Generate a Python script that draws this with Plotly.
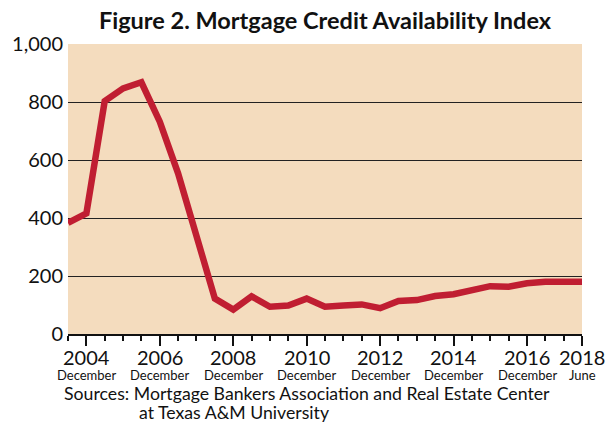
import plotly.graph_objects as go

dates = ["2004-06-01", "2004-12-01", "2005-06-01", "2005-12-01", "2006-06-01", "2006-12-01",
         "2007-06-01", "2007-12-01", "2008-06-01", "2008-12-01", "2009-06-01", "2009-12-01",
         "2010-06-01", "2010-12-01", "2011-06-01", "2011-12-01", "2012-06-01", "2012-12-01",
         "2013-06-01", "2013-12-01", "2014-06-01", "2014-12-01", "2015-06-01", "2015-12-01",
         "2016-06-01", "2016-12-01", "2017-06-01", "2017-12-01", "2018-06-01"]
mcai = [383, 416, 803, 847, 868, 732, 554, 330, 122, 84, 130, 94,
        98, 122, 94, 98, 102, 89, 114, 117, 131, 137, 152, 165,
        163, 175, 180, 180, 180]

tick_dates = ["2004-12-01", "2006-12-01", "2008-12-01", "2010-12-01", "2012-12-01",
              "2014-12-01", "2016-12-01", "2018-06-01"]
tick_years = ["2004", "2006", "2008", "2010", "2012", "2014", "2016", "2018"]
tick_months = ["December", "December", "December", "December", "December",
               "December", "December", "June"]
y_ticks = [0, 200, 400, 600, 800, 1000]
y_labels = ["0", "200", "400", "600", "800", "1,000"]

FONT = "Lato"

fig = go.Figure()
fig.add_trace(go.Scatter(x=dates, y=mcai, mode="lines",
                         line=dict(color="#C01E32", width=6.5),
                         hoverinfo="skip"))

annotations = []
for d, yr, m in zip(tick_dates, tick_years, tick_months):
    annotations.append(dict(x=d, y=-0.079, xref="x", yref="paper", text=yr,
                            showarrow=False, xanchor="center", yanchor="middle",
                            font=dict(family=FONT, size=20, color="#111")))
    annotations.append(dict(x=d, y=-0.141, xref="x", yref="paper", text=m,
                            showarrow=False, xanchor="center", yanchor="middle",
                            font=dict(family=FONT, size=13, color="#111")))
annotations.append(dict(x=-0.012, y=-0.2035, xref="paper", yref="paper",
                        text="Sources: Mortgage Bankers Association and Real Estate Center",
                        showarrow=False, xanchor="left", yanchor="middle",
                        font=dict(family=FONT, size=17.7, color="#111")))
annotations.append(dict(x=0.134, y=-0.2705, xref="paper", yref="paper",
                        text="at Texas A&M University",
                        showarrow=False, xanchor="left", yanchor="middle",
                        font=dict(family=FONT, size=17.7, color="#111")))

fig.update_layout(
    width=606, height=424,
    margin=dict(l=68, r=24, t=44, b=90),
    paper_bgcolor="white",
    plot_bgcolor="#F4DCBE",
    showlegend=False,
    title=dict(text="<b>Figure 2. Mortgage Credit Availability Index</b>",
               x=0.5, xref="paper", xanchor="center",
               y=1 - 21 / 424, yref="container", yanchor="middle",
               font=dict(family=FONT, size=23.5, color="#111")),
    annotations=annotations,
    xaxis=dict(type="date", range=["2004-06-01", "2018-06-01"], automargin=False,
               tickmode="array", tickvals=tick_dates, showticklabels=False,
               ticks="outside", ticklen=10, tickwidth=2, tickcolor="#111",
               showline=True, linecolor="#111", linewidth=2,
               showgrid=False, zeroline=False,
               minor=dict(ticks="outside", ticklen=5, tickwidth=2, tickcolor="#111",
                          dtick="M6", tick0="2004-06-01", showgrid=False)),
    yaxis=dict(range=[0, 1000], tickmode="array", tickvals=y_ticks, ticktext=y_labels,
               showgrid=True, gridcolor="#222", gridwidth=1, automargin=False,
               zeroline=False, showline=False, ticks="",
               ticklabelstandoff=4,
               tickfont=dict(family=FONT, size=20, color="#111")),
)

fig.write_html("out.html")
